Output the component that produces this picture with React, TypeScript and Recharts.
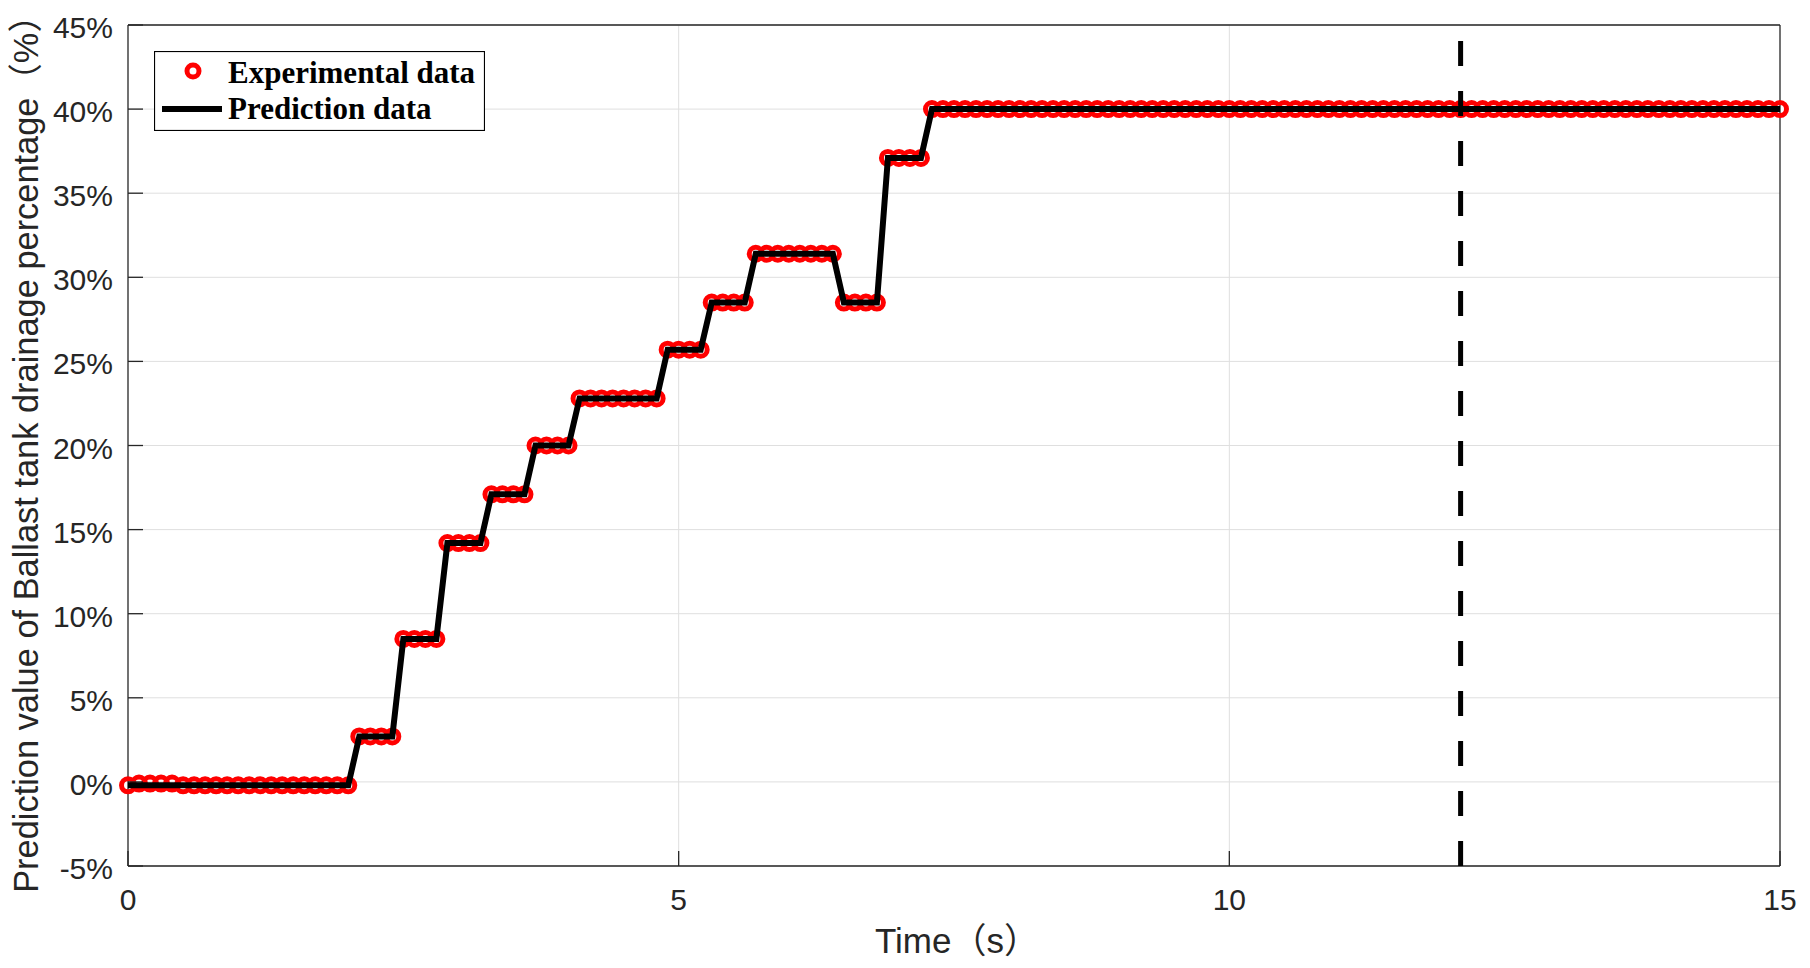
import React from "react";
import { ComposedChart, Line, XAxis, YAxis, CartesianGrid, ReferenceLine, Legend, Label } from "recharts";

// sampling period of the test rig (s)
const SAMPLE_STEP_S = 0.1;

// measured drainage percentage, one value per sample (t = 0.0 ... 15.0 s)
const experimentalPct = [
  -0.2, -0.1, -0.1, -0.1, -0.1, -0.2, -0.2, -0.2, -0.2, -0.2, // 0.0-0.9
  -0.2, -0.2, -0.2, -0.2, -0.2, -0.2, -0.2, -0.2, -0.2, -0.2, // 1.0-1.9
  -0.2, 2.7, 2.7, 2.7, 2.7, 8.5, 8.5, 8.5, 8.5, 14.2, // 2.0-2.9
  14.2, 14.2, 14.2, 17.1, 17.1, 17.1, 17.1, 20.0, 20.0, 20.0, // 3.0-3.9
  20.0, 22.8, 22.8, 22.8, 22.8, 22.8, 22.8, 22.8, 22.8, 25.7, // 4.0-4.9
  25.7, 25.7, 25.7, 28.5, 28.5, 28.5, 28.5, 31.4, 31.4, 31.4, // 5.0-5.9
  31.4, 31.4, 31.4, 31.4, 31.4, 28.5, 28.5, 28.5, 28.5, 37.1, // 6.0-6.9
  37.1, 37.1, 37.1, 40.0, 40.0, 40.0, 40.0, 40.0, 40.0, 40.0, // 7.0-7.9
  40.0, 40.0, 40.0, 40.0, 40.0, 40.0, 40.0, 40.0, 40.0, 40.0, // 8.0-8.9
  40.0, 40.0, 40.0, 40.0, 40.0, 40.0, 40.0, 40.0, 40.0, 40.0, // 9.0-9.9
  40.0, 40.0, 40.0, 40.0, 40.0, 40.0, 40.0, 40.0, 40.0, 40.0, // 10.0-10.9
  40.0, 40.0, 40.0, 40.0, 40.0, 40.0, 40.0, 40.0, 40.0, 40.0, // 11.0-11.9
  40.0, 40.0, 40.0, 40.0, 40.0, 40.0, 40.0, 40.0, 40.0, 40.0, // 12.0-12.9
  40.0, 40.0, 40.0, 40.0, 40.0, 40.0, 40.0, 40.0, 40.0, 40.0, // 13.0-13.9
  40.0, 40.0, 40.0, 40.0, 40.0, 40.0, 40.0, 40.0, 40.0, 40.0, // 14.0-14.9
  40.0, // 15.0
];

// predicted curve, corner points only
const predictionTimeS = [0, 2.0, 2.1, 2.4, 2.5, 2.8, 2.9, 3.2, 3.3, 3.6, 3.7, 4.0, 4.1, 4.8, 4.9, 5.2, 5.3, 5.6, 5.7, 6.4, 6.5, 6.8, 6.9, 7.2, 7.3, 15.0];
const predictionPct = [-0.2, -0.2, 2.7, 2.7, 8.5, 8.5, 14.2, 14.2, 17.1, 17.1, 20.0, 20.0, 22.8, 22.8, 25.7, 25.7, 28.5, 28.5, 31.4, 31.4, 28.5, 28.5, 37.1, 37.1, 40.0, 40.0];

const cutoffTimeS = 12.1;

const xTicks = [0, 5, 10, 15];
const yTicks = [-5, 0, 5, 10, 15, 20, 25, 30, 35, 40, 45];
const xDomain = [0, 15];
const yDomain = [-5, 45];
const seriesNames = ["Experimental data", "Prediction data"];
const xLabel = "Time\uFF08s\uFF09";
const yLabel = "Prediction value of Ballast tank drainage percentage\uFF08%\uFF09";

const expData = experimentalPct.map((v, i) => ({ t: +(i * SAMPLE_STEP_S).toFixed(1), v }));
const predData = predictionTimeS.map((t, i) => ({ t, v: predictionPct[i] }));

const W = 1810;
const H = 968;
const AXIS = "#262626";
const SANS = "'Liberation Sans', Arial, 'Noto Sans CJK SC', sans-serif";
const SERIF = "'Liberation Serif', 'Times New Roman', serif";
const TICK_LEN = 15;

const LeftTick = ({ x, y, payload }: any) => (
  <g>
    <line x1={x + 15} x2={x + 15 + TICK_LEN} y1={y} y2={y} stroke={AXIS} strokeWidth={1.3} />
    <text x={x} y={y} dy={13} textAnchor="end" fontFamily={SANS} fontSize={30} fill={AXIS}>
      {payload.value}%
    </text>
  </g>
);

const RightTick = ({ x, y }: any) => (
  <line x1={x - TICK_LEN} x2={x} y1={y} y2={y} stroke={AXIS} strokeWidth={1.3} />
);

const BottomTick = ({ x, y, payload }: any) => (
  <g>
    <line x1={x} x2={x} y1={y} y2={y - TICK_LEN} stroke={AXIS} strokeWidth={1.3} />
    <text x={x} y={y + 44} textAnchor="middle" fontFamily={SANS} fontSize={30} fill={AXIS}>
      {payload.value}
    </text>
  </g>
);

const TopTick = ({ x, y }: any) => (
  <line x1={x} x2={x} y1={y} y2={y + TICK_LEN} stroke={AXIS} strokeWidth={1.3} />
);

const renderYLabel = ({ viewBox }: any) => {
  const cx = viewBox.x + 10;
  const cy = viewBox.y + viewBox.height / 2;
  return (
    <text x={cx} y={cy} transform={`rotate(-90 ${cx} ${cy})`} textAnchor="middle" fontFamily={SANS} fontSize={34.4} fill={AXIS}>
      {yLabel}
    </text>
  );
};

const renderXLabel = ({ viewBox }: any) => (
  <text x={viewBox.x + viewBox.width / 2 + 3} y={viewBox.y + 87} textAnchor="middle" fontFamily={SANS} fontSize={35} fill={AXIS}>
    {xLabel}
  </text>
);

const LegendBox = () => (
  <svg width={331} height={80} style={{ display: "block" }}>
    <rect x={0.5} y={0.5} width={330} height={79} fill="#fff" stroke="#000" strokeWidth={1.2} />
    <circle cx={39} cy={20} r={6} fill="none" stroke="#ff0000" strokeWidth={5} />
    <line x1={8} x2={68} y1={58} y2={58} stroke="#000" strokeWidth={6} />
    <text x={74} y={32} fontFamily={SERIF} fontWeight="bold" fontSize={31} fill="#000">
      {seriesNames[0]}
    </text>
    <text x={74} y={68} fontFamily={SERIF} fontWeight="bold" fontSize={31} fill="#000">
      {seriesNames[1]}
    </text>
  </svg>
);

export default function App() {
  return (
    <div style={{ position: "absolute", left: 0, top: 0, width: W, height: H, background: "#fff" }}>
      {/* base layer: frame, grid and the measured markers */}
      <div style={{ position: "absolute", left: 0, top: 0 }}>
        <ComposedChart width={W} height={H} margin={{ top: 15, right: 20, bottom: 15, left: 28 }}>
          <CartesianGrid stroke="#dfdfdf" strokeWidth={1} verticalValues={[5, 10]} horizontalValues={yTicks} />
          <XAxis
            dataKey="t"
            type="number"
            domain={xDomain}
            ticks={xTicks}
            interval={0}
            height={87}
            tickSize={0}
            tickMargin={0}
            tick={<BottomTick />}
            tickLine={false}
            axisLine={{ stroke: AXIS, strokeWidth: 1.3 }}
          >
            <Label content={renderXLabel} />
          </XAxis>
          <XAxis
            xAxisId="top"
            orientation="top"
            dataKey="t"
            type="number"
            domain={xDomain}
            ticks={xTicks}
            interval={0}
            height={10}
            tickSize={0}
            tickMargin={0}
            tick={<TopTick />}
            tickLine={false}
            axisLine={{ stroke: AXIS, strokeWidth: 1.3 }}
          />
          <YAxis
            type="number"
            domain={yDomain}
            ticks={yTicks}
            interval={0}
            width={100}
            tickSize={0}
            tickMargin={15}
            tick={<LeftTick />}
            tickLine={false}
            axisLine={{ stroke: AXIS, strokeWidth: 1.3 }}
          >
            <Label content={renderYLabel} />
          </YAxis>
          <YAxis
            yAxisId="right"
            orientation="right"
            type="number"
            domain={yDomain}
            ticks={yTicks}
            interval={0}
            width={10}
            tickSize={0}
            tickMargin={0}
            tick={<RightTick />}
            tickLine={false}
            axisLine={{ stroke: AXIS, strokeWidth: 1.3 }}
          />
          <Line
            data={expData}
            dataKey="v"
            name={seriesNames[0]}
            type="linear"
            stroke="none"
            strokeWidth={0}
            dot={{ r: 6.5, fill: "none", stroke: "#ff0000", strokeWidth: 5 }}
            activeDot={false}
            isAnimationActive={false}
          />
        </ComposedChart>
      </div>
      {/* top layer: prediction curve, cut-off line and legend drawn over the markers */}
      <div style={{ position: "absolute", left: 0, top: 0, pointerEvents: "none" }}>
        <ComposedChart width={W} height={H} margin={{ top: 25, right: 30, bottom: 102, left: 128 }}>
          <XAxis dataKey="t" type="number" domain={xDomain} hide />
          <YAxis type="number" domain={yDomain} hide />
          <Line
            data={predData}
            dataKey="v"
            name={seriesNames[1]}
            type="linear"
            stroke="#000"
            strokeWidth={6}
            dot={false}
            activeDot={false}
            isAnimationActive={false}
          />
          <ReferenceLine
            segment={[{ x: cutoffTimeS, y: -5 }, { x: cutoffTimeS, y: 45 }]}
            stroke="#000"
            strokeWidth={5}
            strokeDasharray="25 25"
          />
          <Legend
            content={<LegendBox />}
            layout="horizontal"
            verticalAlign="middle"
            wrapperStyle={{ left: 154, top: 51, width: 331, height: 80 }}
          />
        </ComposedChart>
      </div>
    </div>
  );
}
